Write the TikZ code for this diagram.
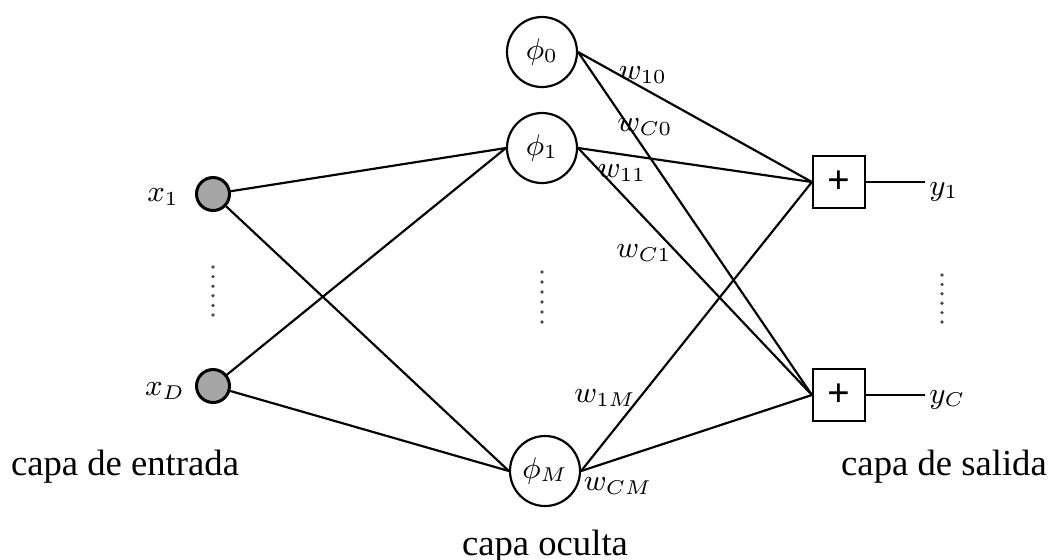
\documentclass[tikz,border=0pt]{standalone}
\usepackage{fontspec}
\setmainfont{Liberation Serif}
\begin{document}
\begin{tikzpicture}[x=0.3pt,y=-0.3pt,line width=0.65pt,
  entrada/.style={circle,draw,line width=0.9pt,fill=gray!70,minimum size=9.9pt,inner sep=0pt},
  oculta/.style={circle,draw,minimum size=21pt,inner sep=0pt,font=\small},
  salida/.style={rectangle,draw,minimum size=15.6pt,inner sep=0pt,font=\large\bfseries},
  peso/.style={font=\small,inner sep=1pt},
  capa/.style={font=\fontsize{11}{13}\selectfont,anchor=base}]
\useasboundingbox (0,0) rectangle (1049,559);
% capa de entrada
\node[entrada] (x1) at (213,194) {};
\node[entrada] (xD) at (213,386) {};
\node[peso] (lx1) at (163,197) {$x_1$};
\node[peso] (lxD) at (165,391) {$x_D$};
% capa oculta
\node[oculta] (phi0) at (542,52) {$\phi_0$};
\node[oculta] (phi1) at (542,148) {$\phi_1$};
\node[oculta] (phiM) at (545,471) {$\phi_M$};
% capa de salida
\node[salida] (s1) at (839,182) {+};
\node[salida] (sC) at (839,395) {+};
\node[peso,anchor=west] (y1) at (925,192) {$y_1$};
\node[peso,anchor=west] (yC) at (925,400) {$y_C$};
\draw (s1.east) -- (s1.east -| y1.west);
\draw (sC.east) -- (sC.east -| yC.west);
% conexiones
\foreach \a in {x1,xD}
  \foreach \b in {phi1,phiM}
    \draw (\a) -- (\b.west);
\foreach \a in {phi0,phi1,phiM}
  \foreach \b in {s1,sC}
    \draw (\a.east) -- (\b.west);
% pesos
\node[peso] (w10) at (643,75) {$w_{10}$};
\node[peso] (wC0) at (645,127) {$w_{C0}$};
\node[peso] (w11) at (622,173) {$w_{11}$};
\node[peso] (wC1) at (644,253) {$w_{C1}$};
\node[peso] (w1M) at (605,398) {$w_{1M}$};
\node[peso] (wCM) at (618,486) {$w_{CM}$};
% puntos
\foreach \k in {0,...,5} {
  \fill[black!70] (213,267+9.6*\k) circle (0.55pt);
  \fill[black!70] (542,272+10*\k) circle (0.55pt);
  \fill[black!70] (942,275+9.4*\k) circle (0.55pt);
}
\node[capa] (entrada) at (125,475) {capa de entrada};
\node[capa] (salida) at (944,475) {capa de salida};
\node[capa] (oculta) at (545,555) {capa oculta};
\end{tikzpicture}
\end{document}
